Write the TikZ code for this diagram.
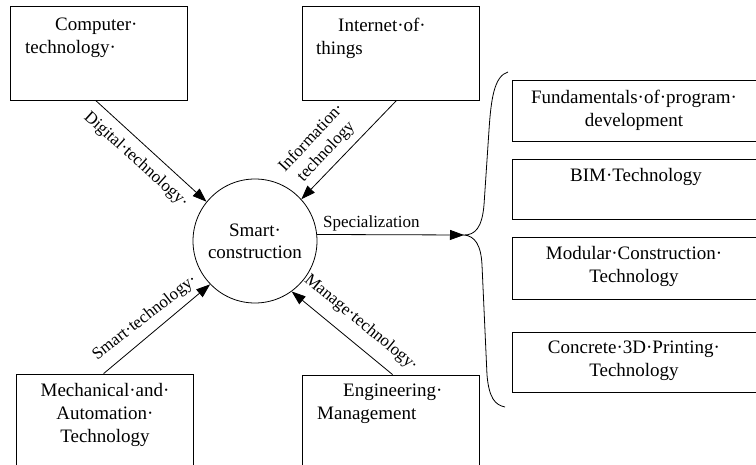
\documentclass[tikz,border=0pt]{standalone}
\usepackage{fontspec}
\setmainfont{Liberation Serif}
\usetikzlibrary{arrows.meta,calc}
\begin{document}
\begin{tikzpicture}[x=1pt,y=-1pt,
  box/.style={draw, line width=0.8pt, rectangle, inner sep=0pt},
  boxtxt/.style={font=\fontsize{19}{23}\selectfont, inner sep=0pt},
  lbl/.style={font=\fontsize{17}{20}\selectfont, inner sep=0pt},
  arr/.style={draw, line width=0.8pt, -{Triangle[length=14pt,width=10pt]}},
  brace/.style={draw, line width=0.8pt}
]
\useasboundingbox (0,0) rectangle (756,465);
\clip (0,0) rectangle (756,465);

% boxes
\node[box, minimum width=177pt, minimum height=94pt] (comp) at (98.5,53) {};
\node[box, minimum width=177pt, minimum height=94pt] (iot) at (390.5,53) {};
\node[box, minimum width=177pt, minimum height=110pt] (mech) at (104.5,429) {};
\node[box, minimum width=177pt, minimum height=110pt] (eng) at (390.5,430) {};
\node[box, minimum width=258pt, minimum height=61pt] (r1) at (641,110.5) {};
\node[box, minimum width=258pt, minimum height=60pt] (r2) at (641,189) {};
\node[box, minimum width=258pt, minimum height=62pt] (r3) at (641,268) {};
\node[box, minimum width=258pt, minimum height=60pt] (r4) at (641,362) {};

% circle
\node[draw, circle, line width=0.8pt, minimum size=124pt, inner sep=0pt,
      align=center, font=\fontsize{19}{22}\selectfont] (sc) at (255,241) {Smart·\\construction};

% box texts
\node[boxtxt, align=left, anchor=west] (tcomp) at (25,38) {\hspace*{30pt}Computer·\\technology·};
\node[boxtxt, align=left, anchor=west] (tiot) at (316,38) {\hspace*{22pt}Internet·of·\\things};
\node[boxtxt, align=center] (tmech) at (105,414.5) {Mechanical·and·\\Automation·\\Technology};
\node[boxtxt, align=left, anchor=west] (teng) at (317,403.5) {\hspace*{26pt}Engineering·\\Management};
\node[boxtxt, align=center] (tr1) at (634,110) {Fundamentals·of·program·\\development};
\node[boxtxt] (tr2) at (636,177) {BIM·Technology};
\node[boxtxt, align=center] (tr3) at (634,266.5) {Modular·Construction·\\Technology};
\node[boxtxt, align=center] (tr4) at (634,361) {Concrete·3D·Printing·\\Technology};

% arrows
\draw[arr] ($(comp.south west)+(86,0)$) -- (sc.141);
\draw[arr] ($(iot.south west)+(95,0)$) -- (sc.42);
\draw[arr] ($(mech.north west)+(88,0)$) -- (sc.224);
\draw[arr] ($(eng.north west)+(91,0)$) -- (sc.306);
\coordinate (btip) at (464,235);
\draw[arr] (sc.6) -- (btip);

% brace
\draw[brace] (508,72) .. controls (494,76) and (491,100) .. (489,130)
  -- (484,205) .. controls (482,228) and (475,235) .. (btip)
  .. controls (475,236) and (481,245) .. (482,265)
  -- (487,375) .. controls (489,398) and (495,405) .. (505,407);

% labels
\node[lbl, rotate=-42] (ldig) at (136,160) {Digital·technology·};
\node[lbl, rotate=47, align=center] (linf) at (319,145) {Information·\\technology};
\node[lbl, rotate=38] (lsmart) at (145,318) {Smart·technology·};
\node[lbl, rotate=-39.5] (lman) at (361,323) {Manage·technology·};
\node[lbl, anchor=base west] (lspec) at (323,228) {Specialization};
\end{tikzpicture}
\end{document}
